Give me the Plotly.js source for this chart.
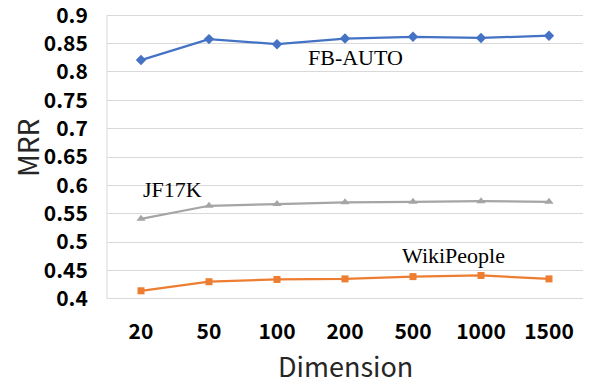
<!DOCTYPE html>
<html>
<head>
<meta charset="utf-8">
<script src="https://cdn.plot.ly/plotly-3.0.1.min.js"></script>
<style>html,body{margin:0;padding:0;background:#fff;}#chart{width:590px;height:379px;}</style>
</head>
<body>
<div id="chart"></div>
<script>
var dimensions = ["20", "50", "100", "200", "500", "1000", "1500"];
var fbAuto = [0.821, 0.858, 0.849, 0.859, 0.862, 0.860, 0.864];
var jf17k = [0.541, 0.564, 0.567, 0.570, 0.571, 0.572, 0.571];
var wikiPeople = [0.414, 0.430, 0.434, 0.435, 0.439, 0.441, 0.435];
var yTicks = [0.4, 0.45, 0.5, 0.55, 0.6, 0.65, 0.7, 0.75, 0.8, 0.85, 0.9];

var traces = [
  {x: dimensions, y: fbAuto, name: "FB-AUTO", mode: "lines+markers",
   line: {color: "#4472C4", width: 2.25}, marker: {symbol: "diamond", size: 8, color: "#4472C4"}},
  {x: dimensions, y: jf17k, name: "JF17K", mode: "lines+markers",
   line: {color: "#A5A5A5", width: 2.25}, marker: {symbol: "triangle-up", size: 8, color: "#A5A5A5"}},
  {x: dimensions, y: wikiPeople, name: "WikiPeople", mode: "lines+markers",
   line: {color: "#ED7D31", width: 2.25}, marker: {symbol: "square", size: 7, color: "#ED7D31"}}
];

var pw = 590 - 107 - 7, ph = 379 - 13 - 78;
var annFont = {family: "Liberation Serif, Times New Roman, serif", size: 22, color: "#000"};
var titleFont = {family: "Noto Sans CJK SC, Noto Sans, sans-serif", size: 27, color: "#262626"};
var layout = {
  width: 590, height: 379,
  margin: {l: 107, r: 7, t: 13, b: 78},
  paper_bgcolor: "#fff", plot_bgcolor: "#fff",
  showlegend: false,
  font: {family: "Noto Sans CJK SC, Noto Sans, sans-serif", color: "#000"},
  xaxis: {
    type: "category", range: [-0.5, 6.5],
    showgrid: false, zeroline: false, showline: false,
    ticks: "outside", ticklen: 12, tickcolor: "rgba(0,0,0,0)",
    ticklabeloverflow: "allow",
    tickfont: {size: 21, weight: 600, color: "#000"}
  },
  yaxis: {
    range: [0.396, 0.904], tickmode: "array", tickvals: yTicks, ticktext: yTicks.map(String),
    showgrid: true, gridcolor: "#D9D9D9", gridwidth: 1,
    zeroline: false, showline: false,
    ticks: "outside", ticklen: 14, tickcolor: "rgba(0,0,0,0)",
    ticklabeloverflow: "allow",
    tickfont: {size: 21, weight: 600, color: "#000"}
  },
  shapes: [
    {type: "line", xref: "paper", yref: "y", x0: 0, x1: 0, y0: 0.4, y1: 0.9,
     line: {color: "#D9D9D9", width: 1}}
  ],
  annotations: [
    {x: (27 - 107) / pw, y: (379 - 78 - 148) / ph, xref: "paper", yref: "paper",
     xanchor: "center", yanchor: "middle", text: "MRR", showarrow: false, textangle: -90,
     font: {family: "Noto Sans CJK SC, Noto Sans, sans-serif", size: 28, color: "#262626"}},
    {x: (345 - 107) / pw, y: (379 - 78 - 365) / ph, xref: "paper", yref: "paper",
     xanchor: "center", yanchor: "middle", text: "Dimension", showarrow: false, font: titleFont},
    {x: 3.16, y: 0.826, xref: "x", yref: "y", text: "FB-AUTO", showarrow: false, font: annFont},
    {x: 0.46, y: 0.592, xref: "x", yref: "y", text: "JF17K", showarrow: false, font: annFont},
    {x: 4.59, y: 0.476, xref: "x", yref: "y", text: "WikiPeople", showarrow: false, font: annFont}
  ]
};
Plotly.newPlot("chart", traces, layout, {displayModeBar: false, staticPlot: true});
</script>
</body>
</html>
